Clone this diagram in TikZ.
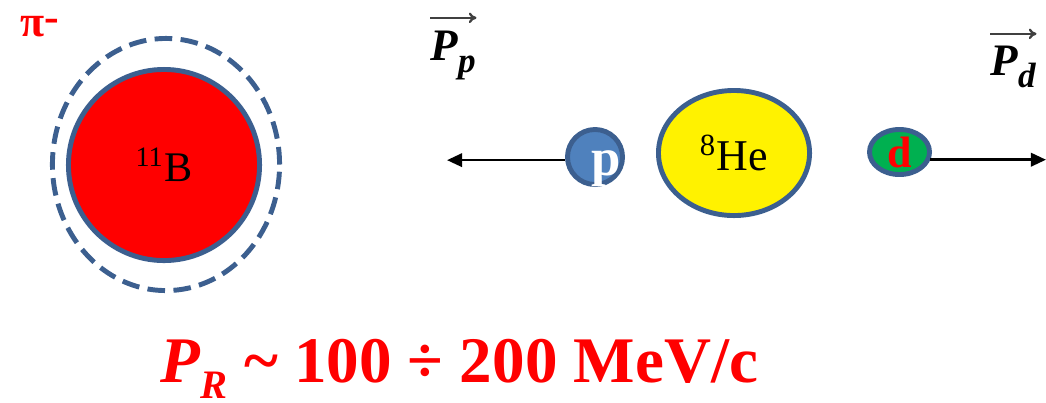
\documentclass[tikz,border=0pt]{standalone}
\usepackage{fontspec}
\setmainfont{Liberation Serif}
\usetikzlibrary{positioning, arrows.meta, shapes.geometric, calc}
\definecolor{rim}{HTML}{3C5F8F}
\definecolor{pblue}{HTML}{4F81BD}
\definecolor{dgreen}{HTML}{00B050}

\begin{document}
\begin{tikzpicture}[x=0.01cm, y=-0.01cm,
	ball/.style={draw=rim, line width=1.4pt, inner sep=0pt},
	track/.style={-{Triangle[length=4.3pt, width=3.8pt]}, line width=0.75pt},
	mom/.style={inner sep=0pt, font=\fontsize{12.8}{14}\selectfont\bfseries\itshape},
	overvec/.style={-{To[length=2.2pt, width=3pt]}, gray!50!black, line width=0.65pt}]
	\useasboundingbox (0,0) rectangle (1046,402);
	\node[anchor=base west, inner sep=0pt, text=red, font=\fontsize{12.5}{14}\selectfont\bfseries] (pion) at (20,36) {π\raisebox{0.2ex}{-}};
	\draw[rim, line width=1.4pt, dash pattern=on 5pt off 2.4pt] (166,164.5) ellipse [x radius=1.135cm, y radius=1.26cm];
	\node[ball, circle, fill=red, minimum size=1.91cm, font=\fontsize{12}{13}\selectfont] (boron) at (164,165) {\textsuperscript{11}B};
	\node[ball, circle, fill=pblue, minimum size=0.55cm] (proton) at (595,157) {};
	\node[inner sep=0pt, text=white, font=\fontsize{15}{16}\selectfont\bfseries] (plbl) at ($(proton)+(11,11.5)$) {p};
	\node[ball, ellipse, fill=yellow, minimum width=1.51cm, minimum height=1.25cm, font=\fontsize{12.5}{14}\selectfont] (helium) at (734,153) {\textsuperscript{8}He};
	\node[ball, ellipse, fill=dgreen, minimum width=0.60cm, minimum height=0.45cm, text=red, font=\fontsize{12.5}{13}\selectfont\bfseries] (deut) at (899.5,152) {d};
	\coordinate (lefttip) at (447,160);
	\coordinate (righttip) at (1046,158);
	\draw[track] (proton.186) -- (proton.186 -| lefttip);
	\draw[track] (deut.-14) -- (deut.-14 -| righttip);
	% momenta
	\node[mom, anchor=base west] (ppvec) at (430,60) {P\raisebox{-0.27em}{\fontsize{10}{10}\selectfont p}};
	\draw[overvec] ([yshift=0.12cm]ppvec.north west) -- ([yshift=0.12cm]ppvec.north east);
	\node[mom, anchor=base west] (pdvec) at (990,75) {P\raisebox{-0.27em}{\fontsize{10}{10}\selectfont d}};
	\draw[overvec] ([yshift=0.11cm]pdvec.north west) -- ([yshift=0.11cm]pdvec.north east);
	\node[anchor=base west, inner sep=0pt, text=red, font=\fontsize{18.5}{20}\selectfont\bfseries] (range) at (160,382) {\textit{P}\raisebox{-0.25em}{\fontsize{11.5}{12}\selectfont\textit{R}} \textasciitilde{} 100 ÷ 200 MeV/c};
\end{tikzpicture}
\end{document}
